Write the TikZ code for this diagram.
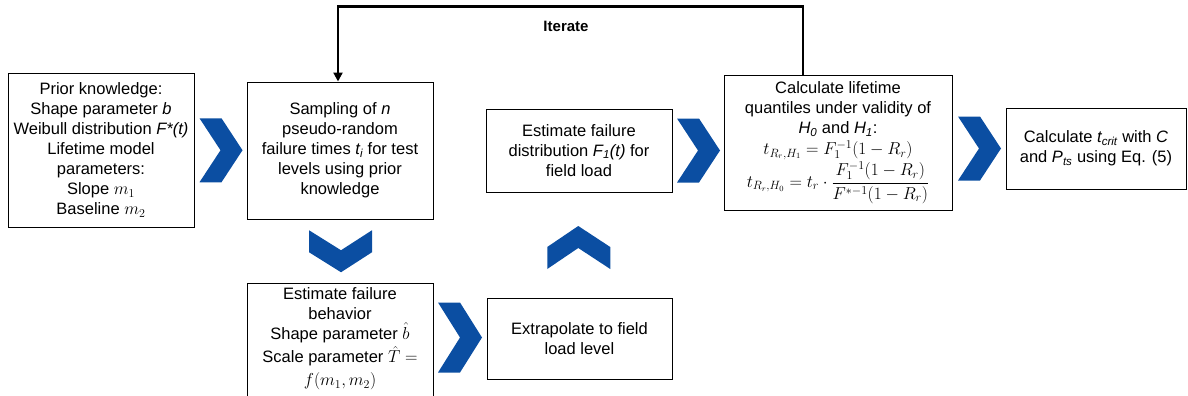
\documentclass[tikz,border=0pt]{standalone}
\usepackage{fontspec}
\setmainfont{Liberation Sans}
\usetikzlibrary{arrows.meta,calc}
\definecolor{chevblue}{RGB}{11,78,162}
\tikzset{
	box/.style={draw, line width=1pt, align=center, inner sep=2pt, font=\fontsize{16.5}{20}\selectfont},
	chevron/.style={fill=chevblue},
	loopline/.style={line width=2.5pt, -{Triangle[width=9pt,length=9pt]}}
}
\begin{document}
\begin{tikzpicture}[x=1pt,y=-1pt]
	\useasboundingbox (0,0) rectangle (1188,396);
	% obere Reihe
	\node (prior) [box, minimum width=186pt, minimum height=154pt] at (101,150) {Prior knowledge:\\ Shape parameter \textit{b}\\ Weibull distribution \textit{F*(t)}\\ Lifetime model\\ parameters:\\ Slope $m_1$\\ Baseline $m_2$};
	\node (sampl) [box, minimum width=186pt, minimum height=137pt] at (340,150.5) {Sampling of \textit{n}\\ pseudo-random\\ failure times \textit{t\textsubscript{i}} for test\\ levels using prior\\ knowledge};
	\node (estF) [box, minimum width=186pt, minimum height=83pt] at (579,150.5) {Estimate failure\\ distribution \textit{F\textsubscript{1}(t)} for\\ field load};
	\node (quant) [box, minimum width=228pt, minimum height=135pt, inner ysep=0pt] at (838,142.5) {Calculate lifetime\\ quantiles under validity of\\ \textit{H\textsubscript{0}} and \textit{H\textsubscript{1}}:\\[1pt] $t_{R_r,H_1} = F_1^{-1}(1-R_r)$\\[1pt] $t_{R_r,H_0} = t_r\cdot\displaystyle\frac{F_1^{-1}(1-R_r)}{F^{*-1}(1-R_r)}$};
	\node (tcrit) [box, minimum width=180pt, minimum height=81pt] at (1096,148.5) {Calculate \textit{t\textsubscript{crit}} with \textit{C}\\ and \textit{P\textsubscript{ts}} using Eq. (5)};
	% untere Reihe
	\node (behav) [box, anchor=north, inner xsep=0pt, inner ysep=4pt] at (340,283) {\parbox[c][140pt][t]{186pt}{\centering Estimate failure\\ behavior\\ Shape parameter $\hat{b}$\\[3pt] Scale parameter $\hat{T}=$\\[3pt] $f(m_1,m_2)$}};
	\node (extra) [box, minimum width=185pt, minimum height=81pt] at (579.5,338.5) {Extrapolate to field\\ load level};
	% Pfeile (Winkel)
	\fill[chevron] ($(prior.east)!.5!(sampl.west)$) ++(-21,-32) -- ++(22,0) -- ++(21,32) -- ++(-21,32) -- ++(-22,0) -- ++(21,-32) -- cycle;
	\fill[chevron] ($(estF.east)!.5!(estF.east -| quant.west)$) ++(-21,-32) -- ++(22,0) -- ++(21,32) -- ++(-21,32) -- ++(-22,0) -- ++(21,-32) -- cycle;
	\fill[chevron] ($(quant.east |- tcrit.west)!.5!(tcrit.west)$) ++(-21,-32) -- ++(22,0) -- ++(21,32) -- ++(-21,32) -- ++(-22,0) -- ++(21,-32) -- cycle;
	\fill[chevron] ($(behav.east |- extra.west)!.5!(extra.west)$) ++(-22,-36) -- ++(22,0) -- ++(22,35) -- ++(-22,35) -- ++(-22,0) -- ++(22,-35) -- cycle;
	% nach unten
	\fill[chevron] ($(sampl.south)!.5!(behav.north)$) ++(-31,-21) -- ++(0,22) -- ++(32,20) -- ++(31,-20) -- ++(0,-22) -- ++(-31,20) -- cycle;
	% nach oben
	\fill[chevron] ($(extra.north)!.5!(estF.south)$) ++(-32,24) -- ++(0,-22) -- ++(31,-21) -- ++(32,21) -- ++(0,22) -- ++(-32,-21) -- cycle;
	% Schleife
	\draw[loopline] ([xshift=-35pt]quant.north) -- ++(0,-68) -| ([xshift=-2pt]sampl.north);
	\node (iter) [font=\fontsize{15}{18}\selectfont\bfseries] at (566,26) {Iterate};
\end{tikzpicture}
\end{document}
